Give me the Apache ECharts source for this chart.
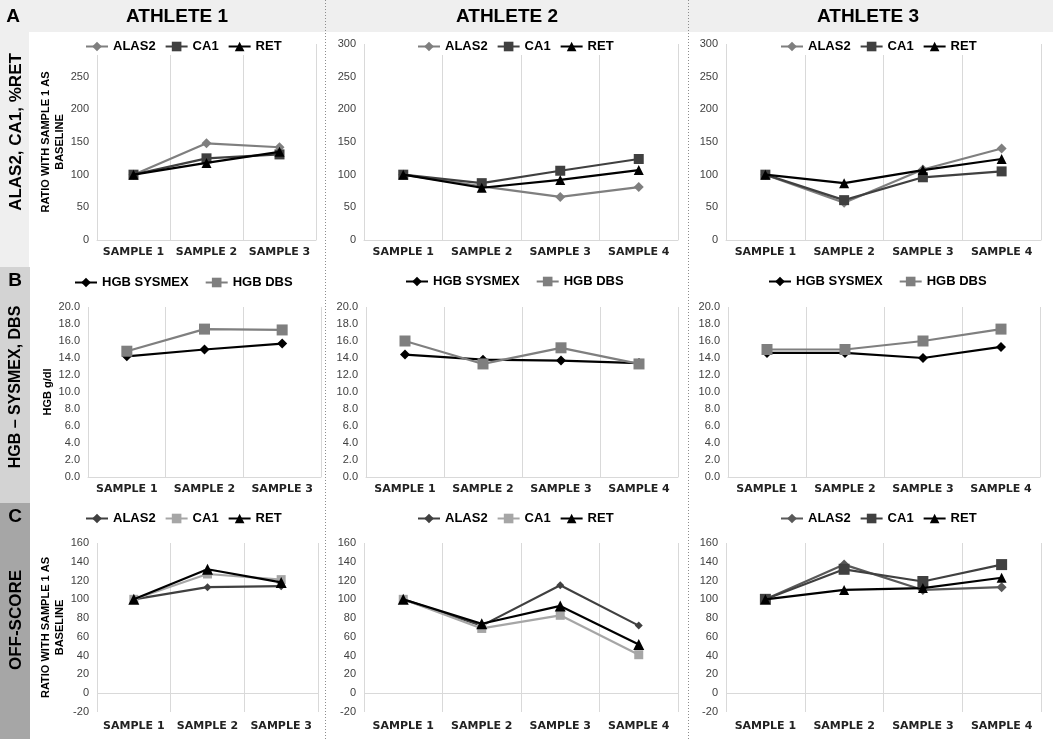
<!DOCTYPE html>
<html><head><meta charset="utf-8">
<script src="https://cdn.jsdelivr.net/npm/echarts@6/dist/echarts.min.js"></script>
<style>html,body{margin:0;padding:0;background:#fff}#c{width:1053px;height:739px}</style>
</head><body><div id="c"></div><script>
// ---------- DATA ----------
const samples3 = ['SAMPLE 1', 'SAMPLE 2', 'SAMPLE 3'];
const samples4 = ['SAMPLE 1', 'SAMPLE 2', 'SAMPLE 3', 'SAMPLE 4'];
const athleteTitles = ['ATHLETE 1', 'ATHLETE 2', 'ATHLETE 3'];
const rowLetters = ['A', 'B', 'C'];
const rowLabels = ['ALAS2, CA1, %RET', 'HGB \u2013 SYSMEX, DBS', 'OFF-SCORE'];
const ratioAxisName = 'RATIO WITH SAMPLE 1 AS\nBASELINE';
const hgbAxisName = 'HGB g/dl';

// Row A: ALAS2, CA1, %RET (ratio with sample 1 as baseline)
const a1ALAS2 = [100, 148, 142];
const a1CA1 = [100, 125, 131];
const a1RET = [100, 118, 135];
const a2ALAS2 = [100, 82, 66, 81];
const a2CA1 = [100, 87, 106, 124];
const a2RET = [100, 80, 92, 107];
const a3ALAS2 = [100, 57, 108, 140];
const a3CA1 = [100, 61, 96, 105];
const a3RET = [100, 87, 107, 124];

// Row B: HGB Sysmex vs DBS (g/dl)
const b1Sysmex = [14.2, 15.0, 15.7];
const b1DBS = [14.8, 17.4, 17.3];
const b2Sysmex = [14.4, 13.8, 13.7, 13.4];
const b2DBS = [16.0, 13.3, 15.2, 13.3];
const b3Sysmex = [14.6, 14.6, 14.0, 15.3];
const b3DBS = [15.0, 15.0, 16.0, 17.4];

// Row C: OFF-score (ratio with sample 1 as baseline)
const c1ALAS2 = [100, 113, 114];
const c1CA1 = [100, 127, 121];
const c1RET = [100, 132, 118];
const c2ALAS2 = [100, 72, 115, 72];
const c2CA1 = [100, 69, 83, 41];
const c2RET = [100, 74, 93, 52];
const c3ALAS2 = [100, 137, 110, 113];
const c3CA1 = [100, 132, 119, 137];
const c3RET = [100, 110, 112, 123];

// ---------- STYLE / LAYOUT ----------
const FONT = '"Liberation Sans", Arial, Helvetica, sans-serif';
const grids = [
  [{left:97,top:44,width:219,height:196},{left:364,top:44,width:314,height:196},{left:726,top:44,width:315,height:196}],
  [{left:88,top:307,width:233,height:170},{left:366,top:307,width:312,height:170},{left:728,top:307,width:312,height:170}],
  [{left:97,top:543,width:221,height:169},{left:364,top:543,width:314,height:169},{left:726,top:543,width:315,height:169}]
];
const yCfg = [
  {min:0,max:300,interval:50,dec:0},
  {min:0,max:20,interval:2,dec:1},
  {min:-20,max:160,interval:20,dec:0}
];
const legendPos = [
  [[85,48],[417,48],[780,48]],
  [[74,284],[405,283],[768,283]],
  [[85,520],[417,520],[780,520]]
];
const stA = {ALAS2:['#7f7f7f','diamond',10], CA1:['#404040','rect',10], RET:['#000000','triangle',10]};
const stB = {'HGB SYSMEX':['#000000','diamond',10], 'HGB DBS':['#7f7f7f','rect',11]};
const stC12 = {ALAS2:['#404040','diamond',8], CA1:['#a6a6a6','rect',9], RET:['#000000','triangle',11]};
const stC3 = {ALAS2:['#595959','diamond',10], CA1:['#404040','rect',11], RET:['#000000','triangle',10]};

const panels = [
  [
    {cats:samples3, st:stA, s:[['ALAS2',a1ALAS2],['CA1',a1CA1],['RET',a1RET]]},
    {cats:samples4, st:stA, s:[['ALAS2',a2ALAS2],['CA1',a2CA1],['RET',a2RET]]},
    {cats:samples4, st:stA, s:[['ALAS2',a3ALAS2],['CA1',a3CA1],['RET',a3RET]]}
  ],
  [
    {cats:samples3, st:stB, s:[['HGB SYSMEX',b1Sysmex],['HGB DBS',b1DBS]]},
    {cats:samples4, st:stB, s:[['HGB SYSMEX',b2Sysmex],['HGB DBS',b2DBS]]},
    {cats:samples4, st:stB, s:[['HGB SYSMEX',b3Sysmex],['HGB DBS',b3DBS]]}
  ],
  [
    {cats:samples3, st:stC12, s:[['ALAS2',c1ALAS2],['CA1',c1CA1],['RET',c1RET]]},
    {cats:samples4, st:stC12, s:[['ALAS2',c2ALAS2],['CA1',c2CA1],['RET',c2RET]]},
    {cats:samples4, st:stC3, s:[['ALAS2',c3ALAS2],['CA1',c3CA1],['RET',c3RET]]}
  ]
];

const option = {animation:false, grid:[], xAxis:[], yAxis:[], series:[], legend:[], graphic:[]};

let gi = 0;
for (let r = 0; r < 3; r++) {
  for (let c = 0; c < 3; c++) {
    const p = panels[r][c];
    const g = grids[r][c];
    option.grid.push(Object.assign({outerBoundsMode:'none', containLabel:false, show:false}, g));
    option.xAxis.push({
      type:'category', gridIndex:gi, data:p.cats, boundaryGap:true,
      axisTick:{show:false},
      axisLine:{show:r!==2, lineStyle:{color:'#d9d9d9', width:1}},
      splitLine:{show:true, lineStyle:{color:'#d9d9d9', width:1}},
      axisLabel:{interval:0, fontFamily:'"DejaVu Sans", sans-serif', fontWeight:'bold', fontSize:11, color:'#222', margin:r===2?9:7}
    });
    const yc = yCfg[r];
    const ya = {
      type:'value', gridIndex:gi, min:yc.min, max:yc.max, interval:yc.interval,
      axisLine:{show:false}, axisTick:{show:false}, splitLine:{show:false},
      axisLabel:{fontFamily:FONT, fontSize:11, color:'#404040', margin:8,
        formatter:(v)=>yc.dec ? v.toFixed(yc.dec) : String(v)}
    };
    if (c === 0) {
      ya.name = r === 1 ? hgbAxisName : ratioAxisName;
      ya.nameLocation = 'middle';
      ya.nameGap = r === 1 ? 31 : 25;
      ya.nameTextStyle = {fontFamily:FONT, fontWeight:'bold', fontSize:11, color:'#000', lineHeight:14};
    }
    option.yAxis.push(ya);
    const prefix = 'p' + gi + '|';
    const names = [];
    p.s.forEach(([nm, data], k) => {
      const st = p.st[nm];
      names.push(prefix + nm);
      const ser = {
        type:'line', name:prefix + nm, xAxisIndex:gi, yAxisIndex:gi, data:data,
        symbol:st[1], symbolSize:st[2], showSymbol:true,
        itemStyle:{color:st[0]}, lineStyle:{color:st[0], width:2.2},
        z:3 + k, emphasis:{disabled:true}
      };
      if (r === 2 && k === 0) {
        ser.markLine = {silent:true, symbol:'none', label:{show:false},
          lineStyle:{color:'#d9d9d9', type:'solid', width:1},
          emphasis:{disabled:true}, data:[{yAxis:0}]};
      }
      option.series.push(ser);
    });
    const lp = legendPos[r][c];
    option.legend.push({
      data:names, selectedMode:false, orient:'horizontal',
      left:lp[0] - 16, top:lp[1] - 10, padding:[2,4,2,16],
      backgroundColor:'#ffffff',
      itemWidth:22, itemHeight:12, itemGap:r===1?16:9,
      formatter:(n)=>n.split('|')[1],
      textStyle:{fontFamily:FONT, fontWeight:'bold', fontSize:13, color:'#000'}
    });
    gi++;
  }
}

// Background panels, titles, separators
option.graphic.push({type:'rect', shape:{x:0,y:0,width:1053,height:32}, style:{fill:'#efefef'}, silent:true});
option.graphic.push({type:'rect', shape:{x:0,y:0,width:29,height:267}, style:{fill:'#efefef'}, silent:true});
option.graphic.push({type:'rect', shape:{x:0,y:267,width:30,height:236}, style:{fill:'#d3d3d3'}, silent:true});
option.graphic.push({type:'rect', shape:{x:0,y:503,width:30,height:236}, style:{fill:'#a6a6a6'}, silent:true});
[325.5, 688.5].forEach(x => option.graphic.push({type:'line', shape:{x1:x,y1:0,x2:x,y2:739},
  style:{stroke:'#8c8c8c', lineWidth:1, lineDash:[1,2]}, silent:true}));
const titleX = [177, 507, 868];
athleteTitles.forEach((t, i) => option.graphic.push({type:'text', x:titleX[i], y:17, silent:true,
  style:{text:t, fontFamily:FONT, fontWeight:'bold', fontSize:19, fill:'#000', align:'center', verticalAlign:'middle'}}));
const letterPos = [[13,17],[15,281],[15,517]];
rowLetters.forEach((t, i) => option.graphic.push({type:'text', x:letterPos[i][0], y:letterPos[i][1], silent:true,
  style:{text:t, fontFamily:FONT, fontWeight:'bold', fontSize:19, fill:'#000', align:'center', verticalAlign:'middle'}}));
const sideY = [132, 387, 620];
const sideSize = [17, 16, 17];
rowLabels.forEach((t, i) => option.graphic.push({type:'text', x:16, y:sideY[i], rotation:Math.PI/2, silent:true,
  style:{text:t, fontFamily:FONT, fontWeight:'bold', fontSize:sideSize[i], fill:'#000', align:'center', verticalAlign:'middle'}}));

const chart = echarts.init(document.getElementById('c'));
chart.setOption(option);
</script></body></html>
